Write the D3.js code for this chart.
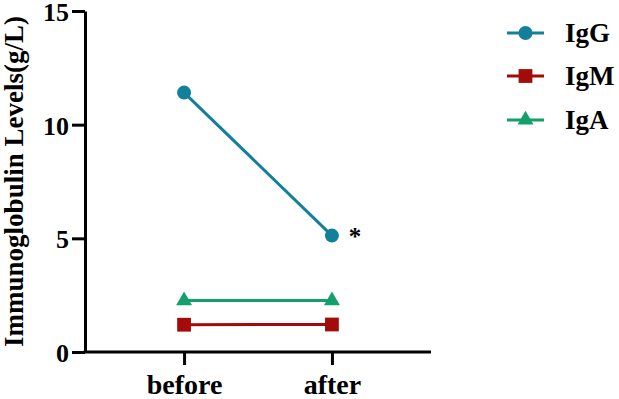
<!DOCTYPE html>
<html>
<head>
	<meta charset="utf-8">
	<title>Immunoglobulin Levels</title>
	<style type="text/css">
		body { margin: 0; background: #fff; }
		svg { display: block; }
		text { font-family: 'Liberation Serif', 'Times New Roman', serif; font-weight: bold; fill: #000; }
	</style>
	<script src="https://d3js.org/d3.v7.min.js"></script>
</head>
<body>
	<svg width="619" height="399"></svg>
	<script type="text/javascript">
		// data
		var categories = ['before', 'after'];
		var seriesNames = ['IgG', 'IgM', 'IgA'];
		var igG = [11.41, 5.12];
		var igM = [1.2, 1.21];
		var igA = [2.26, 2.26];
		var yTicks = [0, 5, 10, 15];
		var colors = ['#127f9b', '#a30a0a', '#13a06c'];
		var symbols = [d3.symbolCircle, d3.symbolSquare, d3.symbolTriangle];
		var symSizes = [154, 190, 110];

		var svg = d3.select('svg');
		var plotLeft = 85, plotRight = 431, plotTop = 11, plotBottom = 352;

		var x = d3.scalePoint().domain(categories).range([plotLeft, plotRight]).padding(0.67);
		var y = d3.scaleLinear().domain([0, 15]).range([plotBottom, plotTop]);

		// y axis
		var yAxis = svg.append('g')
			.attr('transform', 'translate(' + plotLeft + ',0)')
			.call(d3.axisLeft(y).tickValues(yTicks).tickSize(13).tickSizeOuter(0));
		yAxis.select('.domain').attr('stroke-width', 3);
		yAxis.selectAll('.tick line').attr('stroke-width', 3);
		yAxis.selectAll('.tick text')
			.attr('font-size', '26px')
			.attr('font-family', "'Liberation Serif', serif")
			.attr('x', -16)
			.attr('dy', '0.36em');

		// x axis
		var xAxis = svg.append('g')
			.attr('transform', 'translate(0,' + plotBottom + ')')
			.call(d3.axisBottom(x).tickSize(13).tickSizeOuter(0));
		xAxis.select('.domain').attr('stroke-width', 3).attr('d', 'M' + (plotLeft - 1.5) + ',0H' + plotRight);
		xAxis.selectAll('.tick line').attr('stroke-width', 3);
		xAxis.selectAll('.tick text')
			.attr('font-size', '28px')
			.attr('font-family', "'Liberation Serif', serif")
			.attr('y', 22)
			.attr('dy', '0.71em');

		// y axis title
		svg.append('text')
			.attr('transform', 'translate(23,' + ((plotTop + plotBottom) / 2) + ') rotate(-90)')
			.attr('text-anchor', 'middle')
			.attr('font-size', '27px')
			.text('Immunoglobulin Levels(g/L)');

		var line = d3.line()
			.x(function(d, i) { return x(categories[i]); })
			.y(function(d) { return y(d); });

		var allSeries = [igG, igM, igA];
		allSeries.forEach(function(vals, s) {
			svg.append('path')
				.attr('d', line(vals))
				.attr('fill', 'none')
				.attr('stroke', colors[s])
				.attr('stroke-width', 3);
			svg.selectAll('.m' + s)
				.data(vals)
				.enter()
				.append('path')
				.attr('class', 'm' + s)
				.attr('d', d3.symbol().type(symbols[s]).size(symSizes[s]))
				.attr('transform', function(d, i) { return 'translate(' + x(categories[i]) + ',' + y(d) + ')'; })
				.attr('fill', colors[s]);
		});

		// significance mark
		svg.append('text')
			.attr('x', x('after') + 23)
			.attr('y', y(igG[1]) + 9)
			.attr('text-anchor', 'middle')
			.attr('font-size', '25px')
			.text('*');

		// legend
		var legendY = [33, 76, 120];
		seriesNames.forEach(function(name, s) {
			var g = svg.append('g').attr('transform', 'translate(507,' + legendY[s] + ')');
			g.append('line')
				.attr('x1', 0).attr('x2', 37)
				.attr('stroke', colors[s])
				.attr('stroke-width', 3);
			g.append('path')
				.attr('d', d3.symbol().type(symbols[s]).size(symSizes[s]))
				.attr('transform', 'translate(18.5,0)')
				.attr('fill', colors[s]);
			g.append('text')
				.attr('x', 58)
				.attr('dy', '0.35em')
				.attr('font-size', '27px')
				.text(name);
		});
	</script>
</body>
</html>
